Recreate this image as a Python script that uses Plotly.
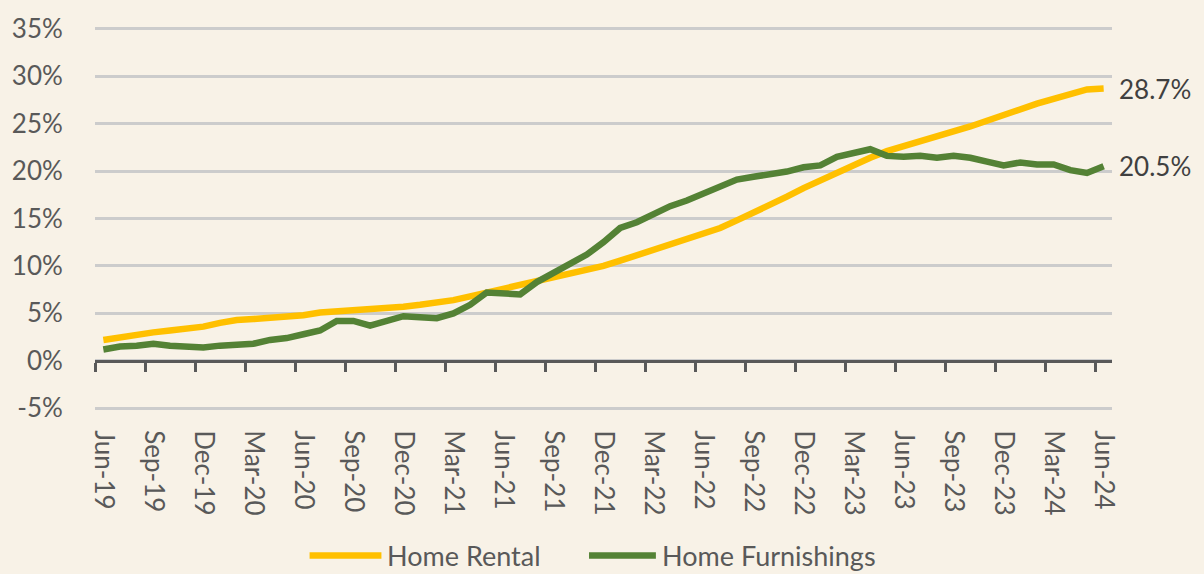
import pandas as pd
import plotly.graph_objects as go

# ---- data ----
months = pd.date_range("2019-06-01", "2024-06-01", freq="MS").strftime("%b-%y").tolist()

home_rental = [
    2.2, 2.5, 2.8, 3.0, 3.2, 3.4, 3.6, 4.0, 4.3, 4.4, 4.5, 4.7,
    4.8, 5.1, 5.2, 5.3, 5.4, 5.5, 5.7, 5.9, 6.1, 6.4, 6.8, 7.2,
    7.5, 8.0, 8.4, 8.8, 9.2, 9.6, 10.0, 10.55, 11.1, 11.7, 12.3, 12.8,
    13.4, 14.0, 14.8, 15.6, 16.5, 17.3, 18.2, 19.0, 19.9, 20.7, 21.4, 22.1,
    22.6, 23.1, 23.6, 24.2, 24.7, 25.3, 25.9, 26.6, 27.1, 27.6, 28.1, 28.6,
    28.7,
]
home_furnishings = [
    1.2, 1.5, 1.6, 1.8, 1.6, 1.5, 1.4, 1.6, 1.7, 1.8, 2.2, 2.4,
    2.8, 3.2, 4.2, 4.2, 3.7, 4.2, 4.7, 4.6, 4.5, 5.0, 5.9, 7.2,
    7.1, 7.0, 8.3, 9.3, 10.2, 11.2, 12.5, 14.0, 14.6, 15.5, 16.3, 16.9,
    17.6, 18.3, 19.1, 19.4, 19.6, 19.95, 20.4, 20.6, 21.5, 21.9, 22.3, 21.6,
    21.5, 21.6, 21.4, 21.6, 21.4, 21.0, 20.6, 20.9, 20.7, 20.7, 20.1, 19.8,
    20.5,
]
series_names = ["Home Rental", "Home Furnishings"]
series_colors = ["#FFC000", "#548235"]
end_labels = ["28.7%", "20.5%"]

x_tick_vals = months[::3]
y_tick_vals = [-5, 0, 5, 10, 15, 20, 25, 30, 35]
y_tick_labels = ["-5%", "0%", "5%", "10%", "15%", "20%", "25%", "30%", "35%"]

# ---- style ----
BG = "#F8F2E7"
FONT = "Lato"
TXT = "#595959"
FS = 26
Y0, Y1 = -5.5, 35.5

fig = go.Figure()
for name, vals, col in zip(series_names, [home_rental, home_furnishings], series_colors):
    fig.add_trace(go.Scatter(x=months, y=vals, mode="lines", name=name,
                             line=dict(color=col, width=6.5), showlegend=False))

# invisible trace carrying the zero-line axis with boundary ticks
fig.add_trace(go.Scatter(x=months, y=[None] * len(months), xaxis="x2", mode="lines",
                         showlegend=False, hoverinfo="skip"))

# end-of-line value labels
for vals, lab in zip([home_rental, home_furnishings], end_labels):
    fig.add_annotation(x=months[-1], y=vals[-1], xref="x", yref="y", text=lab,
                       showarrow=False, xanchor="left", yanchor="middle", xshift=13,
                       font=dict(family=FONT, size=FS, color="#404040"))

# manual legend (paper coordinates)
L, R, T, B = 93, 1112, 20, 413
def px_x(p):
    return (p - L) / (R - L)
def px_y(p):
    return (B - p) / (B - T)

legend_pos = [(308, 380, 384), (588, 655, 659)]
for (x0, x1, xt), name, col in zip(legend_pos, series_names, series_colors):
    fig.add_shape(type="line", xref="paper", yref="paper",
                  x0=px_x(x0), x1=px_x(x1), y0=px_y(557), y1=px_y(557),
                  line=dict(color=col, width=6.5))
    fig.add_annotation(x=px_x(xt), y=px_y(557), xref="paper", yref="paper", text=name,
                       showarrow=False, xanchor="left", yanchor="middle",
                       font=dict(family=FONT, size=FS + 1, color=TXT))

fig.update_layout(
    width=1204, height=574, autosize=False,
    margin=dict(l=L, r=1204 - R, t=T, b=574 - B, pad=0),
    paper_bgcolor=BG, plot_bgcolor=BG,
    font=dict(family=FONT, size=FS, color=TXT),
    showlegend=False,
    xaxis=dict(type="category", categoryorder="array", categoryarray=months,
               range=[-0.5, len(months) - 0.5], tickmode="array", tickvals=x_tick_vals,
               tickangle=90, showgrid=False, showline=False, zeroline=False,
               ticks="outside", ticklen=11, tickcolor="rgba(0,0,0,0)",
               tickfont=dict(family=FONT, size=FS, color=TXT)),
    xaxis2=dict(type="category", categoryorder="array", categoryarray=months,
                overlaying="x", anchor="free", position=(0 - Y0) / (Y1 - Y0),
                range=[-0.5, len(months) - 0.5], tickmode="linear", tick0=0, dtick=3,
                tickson="boundaries", ticks="outside", ticklen=9, tickwidth=2.5,
                tickcolor="#595959", showticklabels=False, showgrid=False,
                showline=True, linecolor="#595959", linewidth=2.5, zeroline=False),
    yaxis=dict(range=[Y0, Y1], tickmode="array", tickvals=y_tick_vals, ticktext=y_tick_labels,
               showgrid=True, gridcolor="#CCCCCC", gridwidth=2.5, zeroline=False,
               showline=False, ticks="outside", ticklen=26, tickcolor="rgba(0,0,0,0)",
               tickfont=dict(family=FONT, size=FS, color=TXT)),
)

fig.write_html("out.html", config={"displayModeBar": False},
               post_script="document.body.style.margin='0';document.body.style.overflow='hidden';"
                           "document.body.style.background='" + BG + "';")
